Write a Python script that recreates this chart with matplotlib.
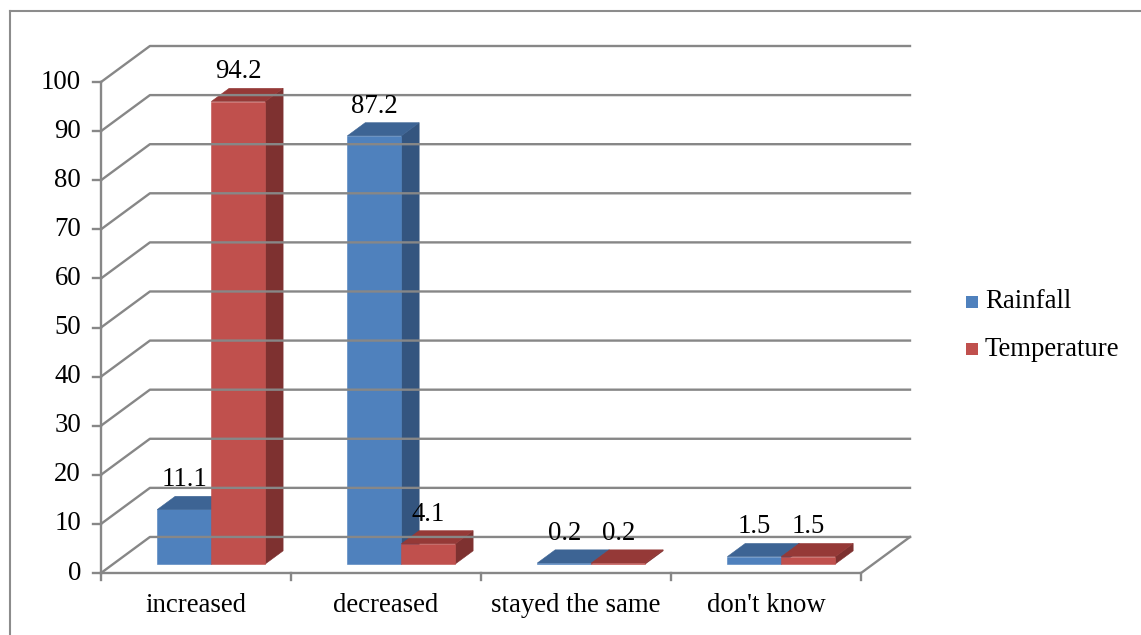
import matplotlib
matplotlib.use("Agg")
import matplotlib.pyplot as plt
from matplotlib.patches import Polygon, Rectangle
from matplotlib.lines import Line2D

# survey answers, percent of respondents
categories = ["increased", "decreased", "stayed the same", "don't know"]
series = ["Rainfall", "Temperature"]
rainfall = [11.1, 87.2, 0.2, 1.5]
temperature = [94.2, 4.1, 0.2, 1.5]
y_ticks = list(range(0, 101, 10))

front_cols = ["#4F81BD", "#C0504D"]
top_cols = ["#3D6494", "#953937"]
side_cols = ["#34557F", "#7E3130"]
grid_col = "#878787"

W, H = 1141, 635
plt.rcParams["font.family"] = ["Liberation Serif", "DejaVu Serif"]
fs = 19.3

fig = plt.figure(figsize=(W / 100, H / 100), dpi=100)
fig.patch.set_facecolor("white")

# pixel box of the chart: front-left x=101, back-right x=910, floor y=573, top of back wall y=46
ax = fig.add_axes([101 / W, (H - 573) / H, (910 - 101) / W, (573 - 46) / H])
ax.axis("off")

# oblique depth of the walls, in data units
DX = 49 / 190.3
DY = 36 / 4.905
ax.set_xlim(0, len(categories) + DX)
ax.set_ylim(0, 100 + DY)

# back wall + side wall gridlines
for v in y_ticks:
    ax.add_line(Line2D([0, DX, len(categories) + DX], [v, v + DY, v + DY],
                       color=grid_col, lw=1.7, clip_on=False))
    ax.add_line(Line2D([-8 / 190.3, 0], [v, v], color=grid_col, lw=1.7, clip_on=False))
    ax.annotate(str(v), xy=(0, v), xytext=(-20, 0), textcoords="offset pixels",
                ha="right", va="center", fontsize=fs, annotation_clip=False)

# front vertical axis
ax.add_line(Line2D([0, 0], [0, 100], color=grid_col, lw=1.7, clip_on=False))
# floor front edge and right edge
n = len(categories)
ax.add_line(Line2D([0, n, n + DX], [0, 0, DY], color=grid_col, lw=1.7, clip_on=False))
for i in range(n + 1):
    ax.add_line(Line2D([i, i], [0, -7 / 4.905], color=grid_col, lw=1.7, clip_on=False))
for i, c in enumerate(categories):
    ax.annotate(c, xy=(i + 0.5, 0), xytext=(0, -33), textcoords="offset pixels",
                ha="center", va="center", fontsize=fs, annotation_clip=False)

# 3D-looking bars
z0, zb = 0.25, 0.365
bw = 0.284
start = 0.232
for i in range(n):
    for s, vals in enumerate([rainfall, temperature]):
        v = vals[i]
        x0 = i + start + s * bw + z0 * DX
        x1 = x0 + bw
        y0 = z0 * DY
        y1 = y0 + v
        ddx, ddy = zb * DX, zb * DY
        front = [(x0, y0), (x1, y0), (x1, y1), (x0, y1)]
        top = [(x0, y1), (x1, y1), (x1 + ddx, y1 + ddy), (x0 + ddx, y1 + ddy)]
        side = [(x1, y0), (x1 + ddx, y0 + ddy), (x1 + ddx, y1 + ddy), (x1, y1)]
        for pts, col in [(side, side_cols[s]), (front, front_cols[s]), (top, top_cols[s])]:
            ax.add_patch(Polygon(pts, closed=True, facecolor=col, edgecolor=col,
                                 lw=0.4, clip_on=False))
        ax.annotate(f"{v}", xy=((x0 + x1) / 2, y1 + ddy), xytext=(0, 4),
                    textcoords="offset pixels", ha="center", va="bottom",
                    fontsize=fs, annotation_clip=False)

# legend
for s, name in enumerate(series):
    cy = 302 + s * 47
    fig.add_artist(Rectangle((966 / W, (H - cy - 6) / H), 12 / W, 12 / H,
                             transform=fig.transFigure, facecolor=front_cols[s],
                             edgecolor="none"))
    fig.text(985 / W, (H - cy) / H, name, ha="left", va="center", fontsize=fs)

# outer frame (top and left edges)
fig.add_artist(Line2D([10 / W, 1.0], [(H - 11) / H, (H - 11) / H],
                      transform=fig.transFigure, color="#8C8C8C", lw=1.5))
fig.add_artist(Line2D([10 / W, 10 / W], [0, (H - 11) / H],
                      transform=fig.transFigure, color="#8C8C8C", lw=1.5))

fig.savefig("out.png", dpi=100, facecolor="white")
